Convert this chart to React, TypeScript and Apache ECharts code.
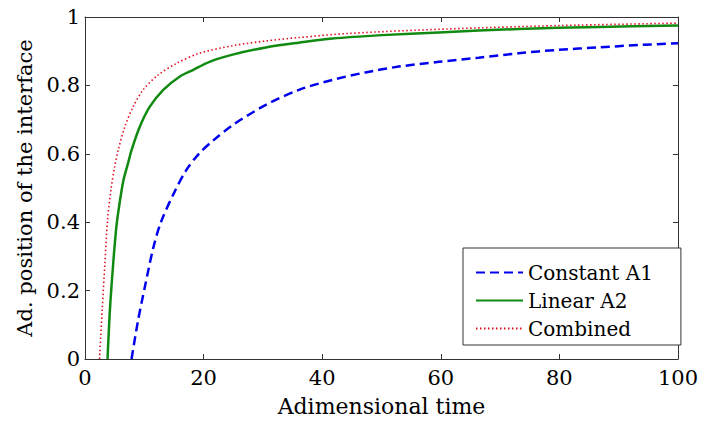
import React, { useEffect, useRef } from "react";
import * as echarts from "echarts";

// Constant A1 (blue dashed): time, position
const constantT = [7.85, 8.96, 10.1, 11.5, 12.8, 15, 17, 19.2, 21.7, 24.9, 30.5, 36.1, 41.7, 47.3, 52.9, 59.7, 66.4, 73.1, 79.8, 86.6, 93.3, 100];
const constantY = [0, 0.114, 0.211, 0.324, 0.4, 0.485, 0.55, 0.6, 0.64, 0.684, 0.743, 0.787, 0.816, 0.838, 0.855, 0.869, 0.881, 0.894, 0.904, 0.911, 0.918, 0.923];

// Linear A2 (green solid)
const linearT = [3.8, 4.2, 4.76, 5.25, 5.7, 6.45, 7.3, 7.85, 9.24, 10.9, 13.2, 16.0, 18.2, 21.0, 24.9, 30.5, 36.1, 41.7, 50.1, 59.7, 73.1, 86.6, 100];
const linearY = [0, 0.143, 0.28, 0.38, 0.44, 0.52, 0.575, 0.611, 0.679, 0.737, 0.787, 0.826, 0.845, 0.869, 0.89, 0.911, 0.925, 0.937, 0.947, 0.955, 0.965, 0.971, 0.975];

// Combined (red dotted)
const combinedT = [2.45, 2.9, 3.36, 3.8, 4.37, 5.0, 5.6, 6.72, 8.1, 9.8, 12.3, 15.4, 19.3, 24.9, 30.5, 36.1, 44.5, 61.1, 80, 100];
const combinedY = [0, 0.143, 0.28, 0.406, 0.494, 0.562, 0.611, 0.679, 0.737, 0.787, 0.83, 0.864, 0.894, 0.916, 0.93, 0.94, 0.952, 0.965, 0.975, 0.982];

const seriesNames = ["Constant A1", "Linear A2", "Combined"];

const FONT = "DejaVu Serif";
const AXIS_COLOR = "#333";

const zip = (xs: number[], ys: number[]) => xs.map((x, i) => [x, ys[i]]);

export default function App() {
  const ref = useRef<HTMLDivElement>(null);

  useEffect(() => {
    if (!ref.current) return;
    const chart = echarts.init(ref.current, null, { renderer: "svg" });

    const baseAxis = {
      type: "value" as const,
      axisLine: { show: true, onZero: false, lineStyle: { color: AXIS_COLOR, width: 1 } },
      axisTick: { show: true, inside: true, length: 5, lineStyle: { color: AXIS_COLOR } },
      splitLine: { show: false },
    };

    chart.setOption({
      animation: false,
      backgroundColor: "#fff",
      grid: { left: 85, right: 21, top: 17, bottom: 68, containLabel: false },
      xAxis: [
        {
          ...baseAxis,
          position: "bottom",
          min: 0,
          max: 100,
          interval: 20,
          name: "Adimensional time",
          nameLocation: "middle",
          nameGap: 36,
          nameTextStyle: { fontFamily: FONT, fontSize: 22, color: "#000" },
          axisLabel: { fontFamily: FONT, fontSize: 21, color: "#000", margin: 8 },
        },
        {
          ...baseAxis,
          position: "top",
          min: 0,
          max: 100,
          interval: 20,
          axisLabel: { show: false },
        },
      ],
      yAxis: [
        {
          ...baseAxis,
          position: "left",
          min: 0,
          max: 1,
          interval: 0.2,
          name: "Ad. position of the interface",
          nameLocation: "middle",
          nameGap: 45,
          nameTextStyle: { fontFamily: FONT, fontSize: 21, color: "#000" },
          axisLabel: { fontFamily: FONT, fontSize: 21, color: "#000", margin: 5 },
        },
        {
          ...baseAxis,
          position: "right",
          min: 0,
          max: 1,
          interval: 0.2,
          axisLabel: { show: false },
        },
      ],
      legend: {
        orient: "vertical",
        left: 463,
        top: 248,
        padding: [14, 28, 6, 12],
        itemWidth: 47,
        itemHeight: 14,
        itemGap: 7,
        backgroundColor: "#fff",
        borderColor: AXIS_COLOR,
        borderWidth: 1,
        borderRadius: 0,
        // hide the marker symbol so only the line sample is drawn
        itemStyle: { opacity: 0 },
        data: seriesNames,
        textStyle: { fontFamily: FONT, fontSize: 20, color: "#000", lineHeight: 21 },
      },
      series: [
        {
          name: seriesNames[0],
          type: "line",
          data: zip(constantT, constantY),
          smooth: 0.3,
          symbol: "none",
          lineStyle: { color: "#0000ee", width: 2.5, type: [9, 5] },
          itemStyle: { color: "#0000ee" },
        },
        {
          name: seriesNames[1],
          type: "line",
          data: zip(linearT, linearY),
          smooth: 0.3,
          symbol: "none",
          lineStyle: { color: "#108a10", width: 2.5, type: "solid" },
          itemStyle: { color: "#108a10" },
        },
        {
          name: seriesNames[2],
          type: "line",
          data: zip(combinedT, combinedY),
          smooth: 0.3,
          symbol: "none",
          lineStyle: { color: "#e01020", width: 1.6, type: [1.5, 2.5] },
          itemStyle: { color: "#e01020" },
        },
      ],
    });

    return () => chart.dispose();
  }, []);

  return (
    <div
      ref={ref}
      style={{ position: "fixed", left: 0, top: 0, width: 701, height: 427, background: "#fff" }}
    />
  );
}
